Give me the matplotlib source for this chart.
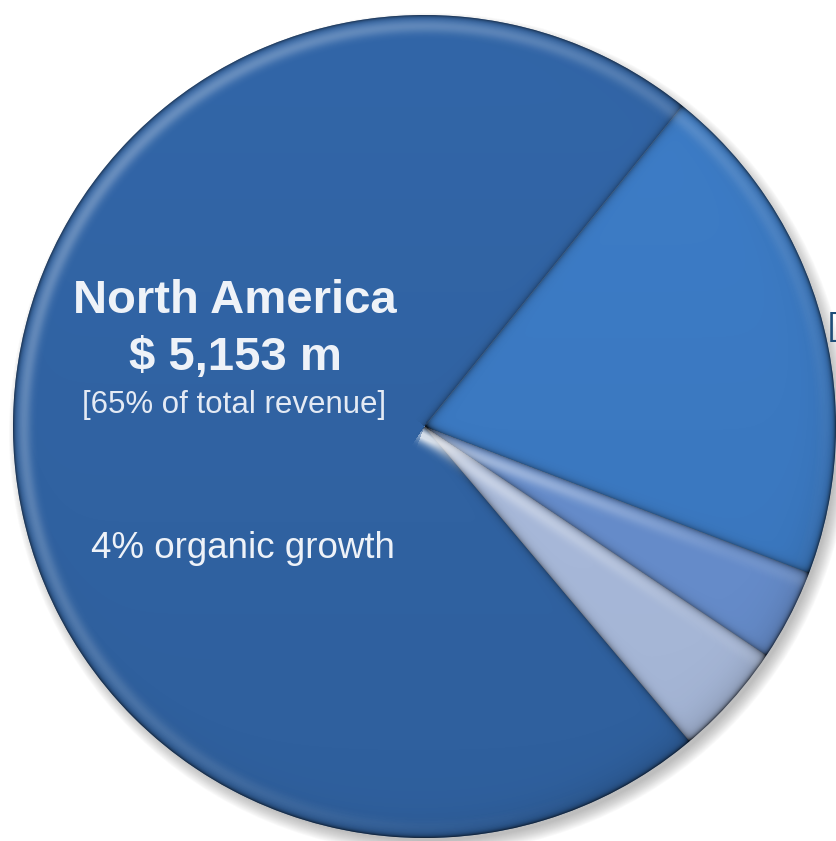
import numpy as np
import matplotlib.pyplot as plt
from matplotlib.patches import Circle

# revenue by region, $ m (North America first, then the smaller regions)
regions = ['North America', 'Region D', 'Region C', 'Region B']
revenue = [5153, 320, 257, 1435]
slice_colors = ['#3266A8', '#AEC0E2', '#6A92D3', '#3D7DC8']

na_title = 'North America'
na_value = '$ 5,153 m'
na_share = '[65% of total revenue]'
na_growth = '4% organic growth'

W, H = 836, 841
cx, cy, R = 424.5, 414.5, 411.5

fig = plt.figure(figsize=(W / 100, H / 100), dpi=100)
ax = fig.add_axes([0, 0, 1, 1])

# soft drop shadow under the pie
for k in range(14):
    ax.add_patch(Circle((cx + 5, cy - 7), R - 4 + k, color='#5a5a5a',
                        alpha=0.03, lw=0, zorder=0))

wedges, _ = ax.pie(revenue, colors=slice_colors, startangle=51.2,
                   counterclock=True, center=(cx, cy), radius=R,
                   wedgeprops=dict(linewidth=0, zorder=1))

# bevel / seam shading laid over the wedges
xs = np.arange(W) + 0.5
ys = np.arange(H) + 0.5
X, Y = np.meshgrid(xs, ys)
dx, dy = X - cx, Y - cy
rr = np.hypot(dx, dy)
ang = np.degrees(np.arctan2(dy, dx)) % 360
edge = R - rr
light = 0.5 + 0.5 * np.cos(np.radians(ang - 135))

dark_a = 0.55 * np.exp(-np.clip(edge, 0, None) / 2.0)
dark_a += 0.15 * np.exp(-np.clip(edge, 0, None) / 14) * (1 - light)
dark_a += 0.07 * (1 - (Y - (cy - R)) / (2 * R))  # lower half a bit darker
light_a = 0.26 * np.exp(-((edge - 11) / 7) ** 2) * light

bounds = sorted({w.theta1 % 360 for w in wedges})
for b in bounds:
    ux, uy = np.cos(np.radians(b)), np.sin(np.radians(b))
    along = dx * ux + dy * uy
    perp = np.abs(-dx * uy + dy * ux)
    seam = np.where(along > 0, np.exp(-perp / 3.0), 0)
    dark_a += 0.32 * seam

# pale highlight running along the upper edge of the two light slices
for w in wedges[1:3]:
    b = w.theta2
    ux, uy = np.cos(np.radians(b)), np.sin(np.radians(b))
    along = dx * ux + dy * uy
    side = -dx * uy + dy * ux  # negative side lies inside the wedge
    hl = np.where((along > 0) & (side < 0), np.exp(-((-side - 9) / 7) ** 2), 0)
    light_a += 0.45 * hl * np.clip(1 - rr / R, 0.2, 1)

dark = np.zeros((H, W, 4))
dark[..., 3] = np.clip(dark_a, 0, 0.85)
bright = np.ones((H, W, 4))
bright[..., 3] = np.clip(light_a, 0, 0.8)

clip = Circle((cx, cy), R, transform=ax.transData)
for img in (dark, bright):
    im = ax.imshow(img, extent=(0, W, 0, H), origin='lower', zorder=2,
                   interpolation='bilinear')
    im.set_clip_path(clip)

# labels (positions given as baselines, counted from the top)
font = 'Liberation Sans'
ax.text(235, H - 313, na_title, color='#EEF2F8', fontsize=34, fontweight='bold',
        ha='center', va='baseline', family=font, zorder=3)
ax.text(235, H - 370, na_value, color='#EEF2F8', fontsize=34, fontweight='bold',
        ha='center', va='baseline', family=font, zorder=3)
ax.text(234, H - 413, na_share, color='#E4EAF4', fontsize=22.5,
        ha='center', va='baseline', family=font, zorder=3)
ax.text(243, H - 558, na_growth, color='#EEF2F8', fontsize=26.5,
        ha='center', va='baseline', family=font, zorder=3)
ax.text(828, H - 335, '[', color='#1F4E79', fontsize=22.5,
        ha='left', va='baseline', family=font, zorder=3)

ax.set_xlim(0, W)
ax.set_ylim(0, H)
ax.set_aspect('auto')
ax.axis('off')

fig.savefig('out.png', dpi=100)
